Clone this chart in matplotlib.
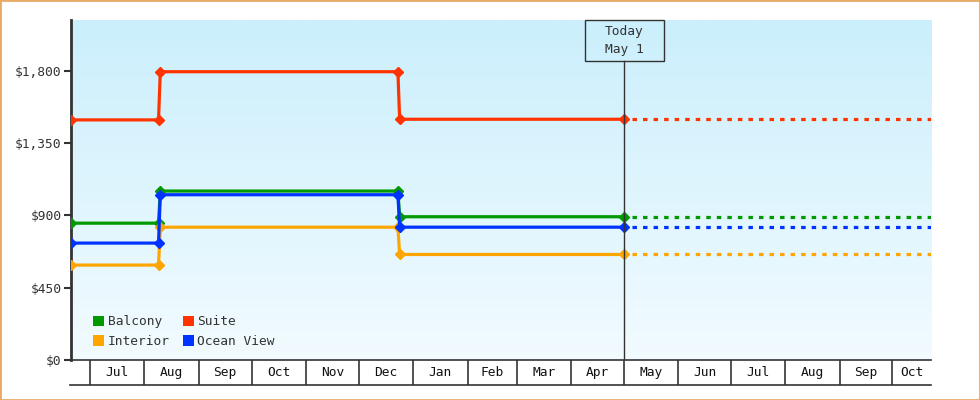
import numpy as np
import pandas as pd
import matplotlib
matplotlib.use('Agg')
import matplotlib.pyplot as plt
import matplotlib.dates as mdates
from matplotlib.colors import LinearSegmentedColormap
from matplotlib.patches import Patch, Rectangle

# price history (step points) per cabin type
dates = pd.to_datetime(['2024-06-19 14:00', '2024-08-08 12:00', '2024-08-09 12:00',
                        '2024-12-23 00:00', '2024-12-24 00:00', '2025-05-01 00:00'])
balcony = [852, 852, 1052, 1052, 892, 892]
suite = [1495, 1495, 1795, 1795, 1499, 1499]
interior = [591, 591, 827, 827, 657, 657]
ocean_view = [728, 728, 1029, 1029, 827, 827]

series_names = ['Balcony', 'Interior', 'Suite', 'Ocean View']
series_vals = [balcony, interior, suite, ocean_view]
series_colors = ['#009900', '#ffa500', '#ff3300', '#0033ff']

today = pd.Timestamp('2025-05-01')
x_start = pd.Timestamp('2024-06-19 14:00')
x_end = pd.Timestamp('2025-10-23')
y_max = 2117
y_ticks = [0, 450, 900, 1350, 1800]

mono = 'DejaVu Sans Mono'
fs = 9.3
dark = '#333333'

fig = plt.figure(figsize=(9.8, 4), dpi=100)
ax = fig.add_axes([71 / 980, 40 / 400, 860 / 980, 340 / 400])

# background gradient
cmap = LinearSegmentedColormap.from_list('bg', ['#f2fbff', '#cbeffc'])
ax.imshow(np.linspace(0, 1, 256).reshape(-1, 1), cmap=cmap, origin='lower',
          extent=[0, 1, 0, 1], transform=ax.transAxes, aspect='auto', zorder=0)

for name, vals, c in zip(series_names, series_vals, series_colors):
    ax.plot(dates, vals, color=c, lw=2.3, marker='D', ms=5.5, zorder=3,
            solid_joinstyle='miter')
    ax.plot([today, x_end], [vals[-1], vals[-1]], color=c, lw=2.3,
            linestyle=(0.8, (1.4, 1.9)), zorder=3)

ax.set_xlim(x_start, x_end)
ax.set_ylim(0, y_max)
ax.set_yticks(y_ticks)
ax.set_yticklabels(['${:,}'.format(v) for v in y_ticks], fontfamily=mono, fontsize=fs, color=dark)
ax.tick_params(axis='y', length=5, width=1.5, color=dark, pad=2)
ax.set_xticks([])
for s in ['top', 'right']:
    ax.spines[s].set_visible(False)
ax.spines['left'].set_linewidth(2)
ax.spines['left'].set_color(dark)
ax.spines['bottom'].set_linewidth(1.2)
ax.spines['bottom'].set_color(dark)

# today marker
x0, x1 = mdates.date2num(x_start), mdates.date2num(x_end)
tx = (mdates.date2num(today) - x0) / (x1 - x0)
box_w = 79 / 860
box_b = (360 - 60.7) / 340
ax.plot([tx, tx], [0, box_b], color=dark, lw=1, transform=ax.transAxes, zorder=4)
ax.add_patch(Rectangle((tx - box_w / 2, box_b), box_w, 1 - box_b, transform=ax.transAxes,
                       facecolor='none', edgecolor=dark, lw=1, clip_on=False, zorder=4))
ax.text(tx, box_b + (1 - box_b) / 2, 'Today\nMay 1', transform=ax.transAxes, ha='center',
        va='center', fontfamily=mono, fontsize=fs, color=dark, linespacing=1.45)

# legend
handles = [Patch(facecolor=c, edgecolor='none', label=n) for n, c in zip(series_names, series_colors)]
ax.legend(handles=handles, ncol=2, loc='lower left', bbox_to_anchor=(0.023, 0.028),
          frameon=False, prop={'family': mono, 'size': fs}, handlelength=0.85,
          handleheight=0.85, handletextpad=0.25, columnspacing=1.05, labelspacing=0.5,
          borderaxespad=0, borderpad=0.2, labelcolor=dark)

# month strip below plot
axm = fig.add_axes([70 / 980, 15 / 400, 861 / 980, 25 / 400])
axm.set_xlim(x_start, x_end)
axm.set_ylim(0, 1)
axm.set_yticks([])
axm.set_xticks([])
axm.patch.set_alpha(0)
for s in ['left', 'right', 'top']:
    axm.spines[s].set_visible(False)
axm.spines['bottom'].set_linewidth(1.2)
axm.spines['bottom'].set_color(dark)

month_starts = pd.date_range('2024-07-01', '2025-10-01', freq='MS')
for m in month_starts:
    axm.plot([m, m], [0, 1], color=dark, lw=1.2)
edges = [x_start] + list(month_starts) + [x_end]
for a, b in zip(edges[:-1], edges[1:]):
    if (b - a).days < 15:
        continue
    mid = a + (b - a) / 2
    axm.text(mid, 0.5, a.strftime('%b'), ha='center', va='center',
             fontfamily=mono, fontsize=fs, color='#111111')

fig.add_artist(Rectangle((0, 0), 1, 1, transform=fig.transFigure, facecolor='none',
                         edgecolor='#e8aa66', lw=2))

fig.savefig('out.png', dpi=100)
